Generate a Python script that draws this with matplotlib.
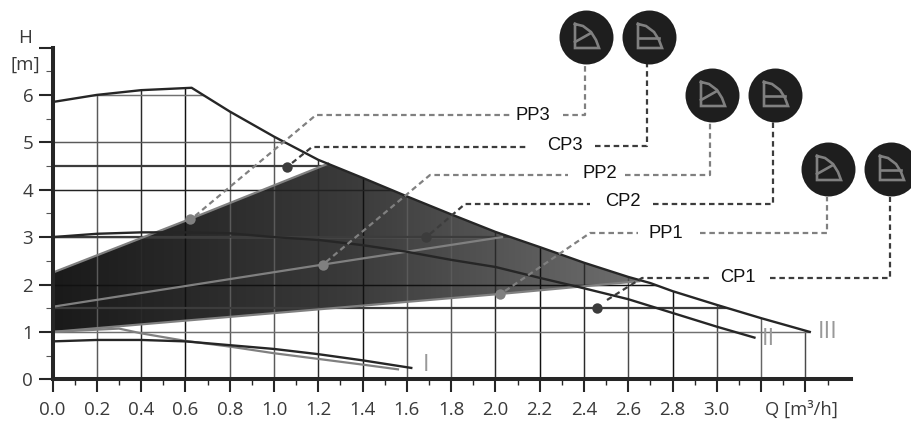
import numpy as np
from matplotlib import pyplot as plt
from matplotlib.colors import LinearSegmentedColormap
from matplotlib.patches import Polygon

plt.rcParams['font.family'] = ['Open Sans', 'DejaVu Sans']

W, H = 912, 421

# pump curves
q3 = [0.0, 0.2, 0.4, 0.628, 0.8, 1.0, 1.2, 1.4, 1.6, 1.8, 2.0, 2.2, 2.4, 2.6, 2.7, 2.8, 3.0, 3.2, 3.42]
h3 = [5.85, 6.0, 6.1, 6.15, 5.65, 5.12, 4.63, 4.25, 3.86, 3.48, 3.11, 2.79, 2.46, 2.16, 2.03, 1.86, 1.57, 1.29, 1.0]
q2 = [0.0, 0.2, 0.4, 0.6, 0.8, 1.0, 1.2, 1.4, 1.6, 1.8, 2.0, 2.2, 2.4, 2.6, 2.8, 3.0, 3.17]
h2 = [3.0, 3.07, 3.1, 3.1, 3.08, 3.0, 2.94, 2.83, 2.69, 2.52, 2.37, 2.14, 1.92, 1.69, 1.40, 1.11, 0.88]
q1 = [0.0, 0.2, 0.4, 0.6, 0.8, 1.0, 1.2, 1.4, 1.62]
h1 = [0.8, 0.83, 0.83, 0.8, 0.72, 0.64, 0.53, 0.40, 0.24]
q1b = [0.0, 0.3, 0.4, 0.6, 0.8, 1.0, 1.2, 1.4, 1.56]
h1b = [1.0, 1.07, 0.97, 0.81, 0.69, 0.55, 0.43, 0.31, 0.21]

# proportional pressure lines
pp3_q = [0.0, 0.62, 1.245]
pp3_h = [2.25, 3.38, 4.55]
pp2_q = [0.0, 1.22, 2.03]
pp2_h = [1.53, 2.42, 3.0]
pp1_q = [0.0, 2.02, 2.65]
pp1_h = [1.0, 1.8, 2.07]

# constant pressure lines
cp_levels = [1.5, 3.0, 4.5]

pp_dots_q = [0.62, 1.22, 2.02]
pp_dots_h = [3.38, 2.42, 1.8]
cp_dots_q = [1.06, 1.685, 2.46]
cp_dots_h = [4.48, 3.0, 1.5]

grid_q = [0.2, 0.4, 0.6, 0.8, 1.0, 1.2, 1.4, 1.6, 1.8, 2.0, 2.2, 2.4, 2.6, 2.8, 3.0, 3.2, 3.4]
grid_q_col = ['#5a5a5a', '#2a2a2a', '#111111', '#5a5a5a', '#5a5a5a', '#2a2a2a', '#111111', '#5a5a5a',
              '#5a5a5a', '#2a2a2a', '#111111', '#2a2a2a', '#4a4a4a', '#111111', '#4a4a4a', '#666666', '#4a4a4a']
grid_h = [1, 2, 3, 4, 5, 6]
grid_h_col = ['#707070', '#111111', '#707070', '#222222', '#5a5a5a', '#707070']

x_major = [round(0.2 * i, 1) for i in range(18)]
x_minor = [round(0.1 + 0.2 * i, 1) for i in range(18)]
x_labels = ['0.0', '0.2', '0.4', '0.6', '0.8', '1.0', '1.2', '1.4', '1.6', '1.8', '2.0', '2.2', '2.4', '2.6', '2.8', '3.0', '', '']
y_major = [0, 1, 2, 3, 4, 5, 6, 7]
y_minor = [0.5, 1.5, 2.5, 3.5, 4.5, 5.5, 6.5]
y_labels = ['0', '1', '2', '3', '4', '5', '6', '']

# leader lines and icons, in picture pixels
leader_names = ['PP3', 'CP3', 'PP2', 'CP2', 'PP1', 'CP1']
leader_text_x = [533, 565, 600, 623, 666, 738]
leader_text_y = [115, 146, 174, 202, 233, 278]
leader_a = [[(195, 216), (316, 115), (510, 115)],
            [(292, 163), (312, 147), (526, 147)],
            [(326, 262), (430, 175), (568, 175)],
            [(430, 234), (465, 204), (590, 204)],
            [(505, 291), (590, 233), (638, 233)],
            [(607, 300), (642, 278), (710, 278)]]
leader_b = [[(563, 115), (585, 115), (585, 64)],
            [(595, 146), (647, 146), (647, 64)],
            [(625, 175), (710, 175), (710, 122)],
            [(653, 204), (773, 204), (773, 122)],
            [(700, 233), (827, 233), (827, 197)],
            [(770, 278), (890, 278), (890, 197)]]
icon_x = [586, 649, 712, 775, 828, 891]
icon_y = [37, 37, 95, 95, 169, 169]
icon_kind = ['pp', 'cp', 'pp', 'cp', 'pp', 'cp']
arc_dx = [-11, -3, 5, 10, 13, -11, -11]
arc_dy = [-13, -11, -5, 3, 11, 11, -13]

x0_px, y0_px = 52.6, 379.3
px_x, px_y = 221.4, 47.4

fig = plt.figure(figsize=(W / 100, H / 100), dpi=100)
ax = fig.add_axes([0, 0, 1, 1])

# gradient wedge between PP3, the max curve and PP1
top_q = [q for q in q3 if pp3_q[-1] < q < pp1_q[-1]]
top_h = [np.interp(q, q3, h3) for q in top_q]
wedge = list(zip(pp3_q, pp3_h)) + list(zip(top_q, top_h)) + list(zip(pp1_q[::-1], pp1_h[::-1]))
wedge_patch = Polygon(wedge, closed=True, transform=ax.transData, fc='none', ec='none')
ax.add_patch(wedge_patch)
cmap = LinearSegmentedColormap.from_list('wedge', ['#1a1a1a', '#3a3a3a', '#6e6e6e'])
im = ax.imshow(np.linspace(0, 1, 256).reshape(1, -1), extent=[0, 2.65, 1, 4.6], cmap=cmap,
               aspect='auto', zorder=1)
im.set_clip_path(wedge_patch)

# grid is cut off by the max curve
under = Polygon(list(zip(q3, h3)) + [(q3[-1], 0), (0, 0)], closed=True, transform=ax.transData, fc='none', ec='none')
ax.add_patch(under)
for q, c in zip(grid_q, grid_q_col):
	l = ax.plot([q, q], [0, 7], color=c, lw=1.05, zorder=2)[0]
	l.set_clip_path(under)
for h, c in zip(grid_h, grid_h_col):
	l = ax.plot([0, 4], [h, h], color=c, lw=1.05, zorder=2)[0]
	l.set_clip_path(under)
for h in cp_levels:
	l = ax.plot([0, 4], [h, h], color='#3c3c3c', lw=1.6, zorder=3)[0]
	l.set_clip_path(under)

for qs, hs in [(pp3_q, pp3_h), (pp2_q, pp2_h), (pp1_q, pp1_h)]:
	ax.plot(qs, hs, color='#808080', lw=1.6, zorder=4)
ax.plot(q1b, h1b, color='#808080', lw=1.6, zorder=4)

for qs, hs in [(q3, h3), (q2, h2), (q1, h1)]:
	ax.plot(qs, hs, color='#262626', lw=1.7, zorder=5)

ax.scatter(pp_dots_q, pp_dots_h, s=56, color='#808080', zorder=6, linewidths=0)
ax.scatter(cp_dots_q, cp_dots_h, s=56, color='#3c3c3c', zorder=6, linewidths=0)

ax.set_xlim(-x0_px / px_x, (W - x0_px) / px_x)
ax.set_ylim(-(H - y0_px) / px_y, y0_px / px_y)

for s in ['top', 'right']:
	ax.spines[s].set_visible(False)
ax.spines['left'].set_position(('data', 0))
ax.spines['bottom'].set_position(('data', 0))
ax.spines['left'].set_bounds(0, 7)
ax.spines['bottom'].set_bounds(0, 3.606)
ax.spines['left'].set_linewidth(2.9)
ax.spines['bottom'].set_linewidth(2.9)
ax.spines['left'].set_color('#262626')
ax.spines['bottom'].set_color('#262626')
ax.spines['left'].set_zorder(7)
ax.spines['bottom'].set_zorder(7)

ax.set_xticks(x_major)
ax.set_xticklabels(x_labels)
ax.set_xticks(x_minor, minor=True)
ax.set_yticks(y_major)
ax.set_yticklabels(y_labels)
ax.set_yticks(y_minor, minor=True)
ax.tick_params(axis='x', which='major', length=9.5, width=1.5, color='#262626', labelsize=13.5, labelcolor='#3a3a3a', pad=6)
ax.tick_params(axis='x', which='minor', length=4.5, width=1.0, color='#262626')
ax.tick_params(axis='y', which='major', length=10, width=1.5, color='#262626', labelsize=13.5, labelcolor='#3a3a3a', pad=4)
ax.tick_params(axis='y', which='minor', length=5, width=0.8, color='#555555')

ax.text(1.685, 0.3, 'I', color='#999999', fontsize=17, ha='center', va='center', zorder=8)
ax.text(3.235, 0.85, 'II', color='#999999', fontsize=17, ha='center', va='center', zorder=8)
ax.text(3.5, 1.0, 'III', color='#999999', fontsize=17, ha='center', va='center', zorder=8)

# overlay in pixel coords for leaders and icons
ov = fig.add_axes([0, 0, 1, 1], facecolor='none')
ov.set_xlim(0, W)
ov.set_ylim(H, 0)
ov.axis('off')

for i, name in enumerate(leader_names):
	col = '#808080' if name.startswith('PP') else '#3c3c3c'
	for pts in (leader_a[i], leader_b[i]):
		xs, ys = zip(*pts)
		ov.plot(xs, ys, color=col, lw=1.6, dashes=(2.5, 1.7), zorder=3)
	ov.text(leader_text_x[i], leader_text_y[i], name, family='Liberation Sans', fontsize=13.2, color='#111111',
	        ha='center', va='center')

ov.scatter(icon_x, icon_y, s=1510, color='#1e1e1e', linewidths=0, zorder=4)
for x, y, kind in zip(icon_x, icon_y, icon_kind):
	ov.plot(np.array(arc_dx) + x, np.array(arc_dy) + y, color='#808080', lw=1.9, zorder=5, solid_joinstyle='miter')
	if kind == 'pp':
		ov.plot([x - 11, x + 5], [y + 5, y - 4], color='#808080', lw=1.9, zorder=5)
	else:
		ov.plot([x - 11, x + 10], [y + 1, y + 1], color='#808080', lw=1.9, zorder=5)

ov.text(25, 38, 'H', fontsize=13.5, color='#3a3a3a', ha='center', va='center')
ov.text(25, 65, '[m]', fontsize=13.5, color='#3a3a3a', ha='center', va='center')
ov.text(801, 410, 'Q [m³/h]', fontsize=13.2, color='#3a3a3a', ha='center', va='center')

fig.savefig('out.png', dpi=100)
